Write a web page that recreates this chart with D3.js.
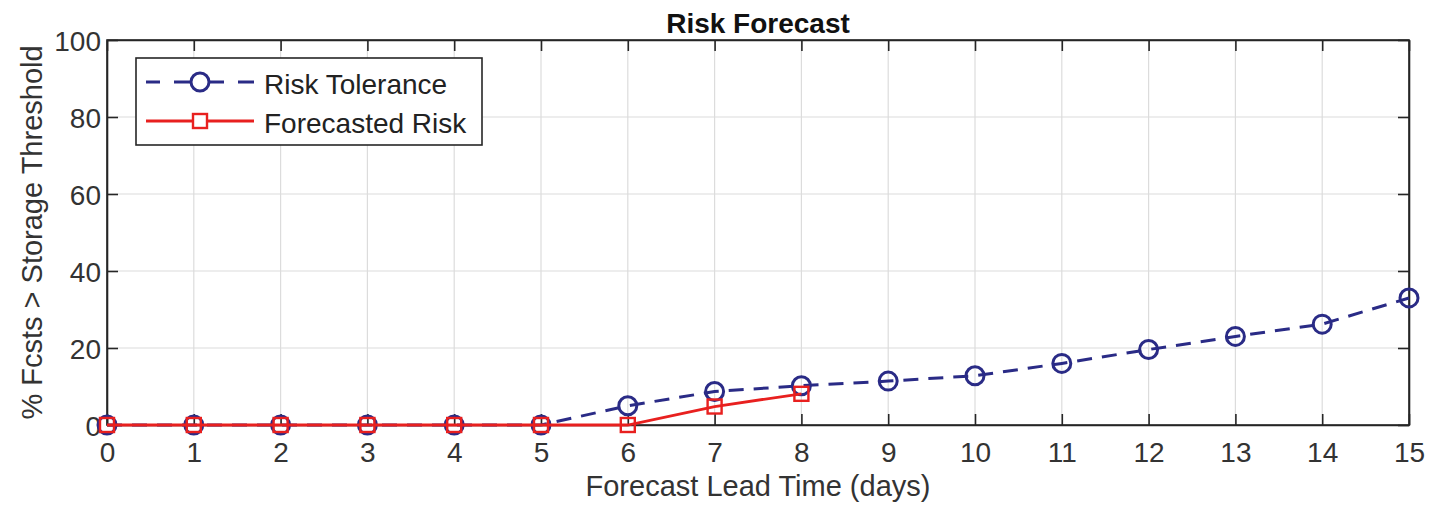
<!DOCTYPE html>
<html>
<head>
<meta charset="utf-8">
<script src="https://cdn.jsdelivr.net/npm/d3@7"></script>
<style>
  html, body { margin: 0; padding: 0; background: #fff; }
  text { font-family: "Liberation Sans", Arial, Helvetica, sans-serif; }
</style>
</head>
<body>
<svg id="chart" width="1447" height="509"></svg>
<script>
// Lead times in days
const leadDays = [0, 1, 2, 3, 4, 5, 6, 7, 8, 9, 10, 11, 12, 13, 14, 15];
// Risk tolerance (% of forecasts above storage threshold)
const riskTolerance = [0, 0, 0, 0, 0, 0, 5, 8.7, 10.2, 11.4, 12.8, 16, 19.6, 23, 26.2, 33];
// Forecasted risk, available through day 8
const forecastDays = [0, 1, 2, 3, 4, 5, 6, 7, 8];
const forecastedRisk = [0, 0, 0, 0, 0, 0, 0, 4.8, 8.1];
const yTicks = [0, 20, 40, 60, 80, 100];

(function () {
const svg = d3.select("#chart");
const plotL = 107, plotR = 1409, plotT = 40, plotB = 425;

const x = d3.scaleLinear().domain([0, 15]).range([plotL, plotR]);
const y = d3.scaleLinear().domain([0, 100]).range([plotB, plotT]);

const navy = "#2a2b86";
const red = "#e8201f";
const axisColor = "#262626";
const fs = 28;

// grid
const grid = svg.append("g").attr("stroke", "#dcdcdc").attr("stroke-width", 1.2);
grid.selectAll("line.gx").data(leadDays.slice(1, -1)).join("line")
  .attr("x1", d => x(d)).attr("x2", d => x(d)).attr("y1", plotT).attr("y2", plotB);
grid.selectAll("line.gy").data(yTicks.slice(1, -1)).join("line")
  .attr("x1", plotL).attr("x2", plotR).attr("y1", d => y(d)).attr("y2", d => y(d));

// axes with inward ticks (box style)
const tickLen = 11;
const xAxis = svg.append("g").attr("transform", `translate(0,${plotB})`)
  .call(d3.axisBottom(x).tickValues(leadDays).tickFormat(d3.format("d")).tickSizeInner(-tickLen).tickSizeOuter(0));
const xTop = svg.append("g").attr("transform", `translate(0,${plotT})`)
  .call(d3.axisTop(x).tickValues(leadDays).tickFormat("").tickSizeInner(-tickLen).tickSizeOuter(0));
const yAxis = svg.append("g").attr("transform", `translate(${plotL},0)`)
  .call(d3.axisLeft(y).tickValues(yTicks).tickFormat(d3.format("d")).tickSizeInner(-tickLen).tickSizeOuter(0));
const yRight = svg.append("g").attr("transform", `translate(${plotR},0)`)
  .call(d3.axisRight(y).tickValues(yTicks).tickFormat("").tickSizeInner(-tickLen).tickSizeOuter(0));

[xAxis, xTop, yAxis, yRight].forEach(g => {
  g.select(".domain").attr("stroke", axisColor).attr("stroke-width", 1.6);
  g.selectAll(".tick line").attr("stroke", axisColor).attr("stroke-width", 1.6);
  g.selectAll(".tick text").attr("fill", "#333").attr("font-family", null).style("font-size", fs + "px");
});
xAxis.selectAll(".tick text").attr("y", 37).attr("dy", 0);
yAxis.selectAll(".tick text").attr("x", -6).attr("dy", "0.36em");

// plot box
svg.append("rect").attr("x", plotL).attr("y", plotT).attr("width", plotR - plotL).attr("height", plotB - plotT)
  .attr("fill", "none").attr("stroke", axisColor).attr("stroke-width", 1.6);

// lines
const tolPts = leadDays.map((d, i) => [d, riskTolerance[i]]);
const fcPts = forecastDays.map((d, i) => [d, forecastedRisk[i]]);
const line = d3.line().x(d => x(d[0])).y(d => y(d[1]));

svg.append("path").datum(tolPts).attr("d", line)
  .attr("fill", "none").attr("stroke", navy).attr("stroke-width", 3).attr("stroke-dasharray", "15,10");
svg.append("g").selectAll("circle").data(tolPts).join("circle")
  .attr("cx", d => x(d[0])).attr("cy", d => y(d[1])).attr("r", 9)
  .attr("fill", "none").attr("stroke", navy).attr("stroke-width", 3);

svg.append("path").datum(fcPts).attr("d", line)
  .attr("fill", "none").attr("stroke", red).attr("stroke-width", 2.8);
svg.append("g").selectAll("rect").data(fcPts).join("rect")
  .attr("x", d => x(d[0]) - 7).attr("y", d => y(d[1]) - 7).attr("width", 14).attr("height", 14)
  .attr("fill", "none").attr("stroke", red).attr("stroke-width", 2.4);

// title and axis labels
svg.append("text").attr("x", (plotL + plotR) / 2).attr("y", 33).attr("text-anchor", "middle")
  .attr("font-weight", "bold").attr("font-size", 28).attr("fill", "#111").text("Risk Forecast");
svg.append("text").attr("x", (plotL + plotR) / 2).attr("y", 496).attr("text-anchor", "middle")
  .attr("font-size", 29).attr("fill", "#333").text("Forecast Lead Time (days)");
svg.append("text").attr("transform", `translate(42,${(plotT + plotB) / 2}) rotate(-90)`)
  .attr("text-anchor", "middle").attr("font-size", 29).attr("fill", "#333").text("% Fcsts > Storage Threshold");

// legend
const lg = svg.append("g");
lg.append("rect").attr("x", 136).attr("y", 58).attr("width", 346).attr("height", 87)
  .attr("fill", "#fff").attr("stroke", axisColor).attr("stroke-width", 1.6);
lg.append("line").attr("x1", 146).attr("x2", 254).attr("y1", 82).attr("y2", 82)
  .attr("stroke", navy).attr("stroke-width", 3).attr("stroke-dasharray", "14,14,22,14");
lg.append("circle").attr("cx", 200).attr("cy", 82).attr("r", 9).attr("fill", "#fff")
  .attr("stroke", navy).attr("stroke-width", 3);
lg.append("line").attr("x1", 146).attr("x2", 254).attr("y1", 121).attr("y2", 121)
  .attr("stroke", red).attr("stroke-width", 2.8);
lg.append("rect").attr("x", 193).attr("y", 114).attr("width", 14).attr("height", 14)
  .attr("fill", "#fff").attr("stroke", red).attr("stroke-width", 2.4);
lg.append("text").attr("x", 264).attr("y", 94).attr("font-size", 28).attr("fill", "#222").text("Risk Tolerance");
lg.append("text").attr("x", 264).attr("y", 133).attr("font-size", 28).attr("fill", "#222").text("Forecasted Risk");
})();
</script>
</body>
</html>
